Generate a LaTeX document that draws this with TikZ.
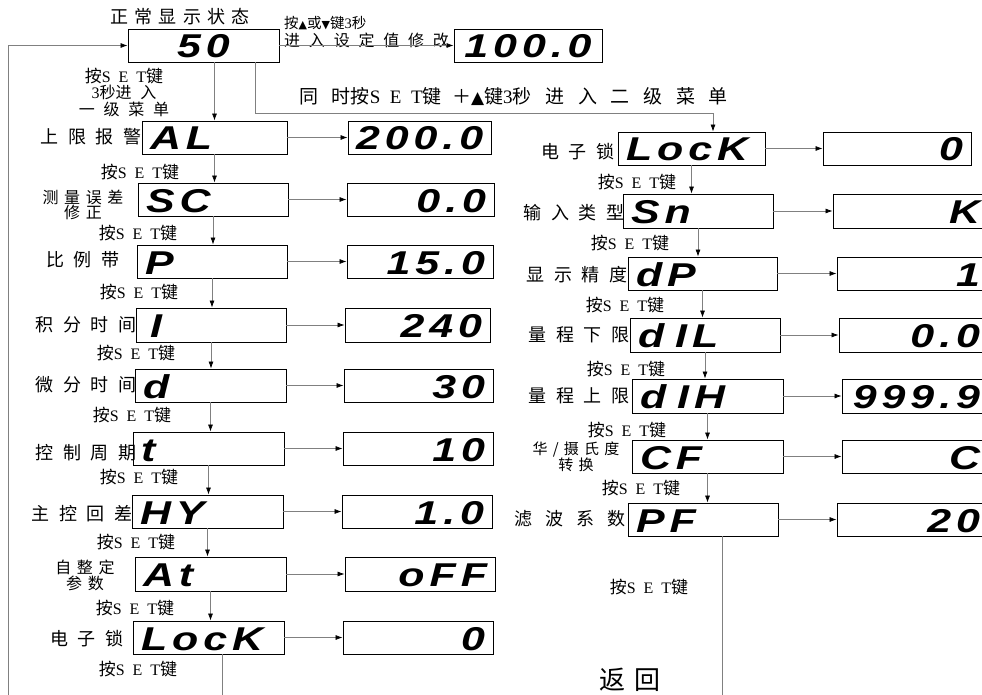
\documentclass[tikz,border=0pt]{standalone}
\usepackage{fontspec}
\setmainfont{Liberation Serif}
\newfontfamily\cjk[LetterSpace=8]{Noto Sans CJK SC}
\newfontfamily\cjkl[LetterSpace=35]{Noto Sans CJK SC}
\newfontfamily\cjkw[LetterSpace=55]{Noto Sans CJK SC}
\newfontfamily\cjkx[LetterSpace=72]{Noto Sans CJK SC}
\newfontfamily\serw[LetterSpace=50]{Liberation Serif}
\newfontfamily\disp[LetterSpace=15,FakeStretch=1.3]{Liberation Sans}
\newfontfamily\sym{DejaVu Sans}
\usetikzlibrary{arrows.meta}
\newcommand\dispfont{\fontsize{33}{33}\selectfont\disp\bfseries\itshape}
\newcommand\anS{{\fontsize{17}{17}\selectfont\cjk 按}{\serw SET}{\fontsize{17}{17}\selectfont\cjk 键}}
\newcommand\bx[7]{%
  \pgfmathsetmacro\tw{#5-#3-16}%
  \node[#1,text width=\tw pt,minimum height={#6-#4}] (#2) at ({(#3+#5)/2},{(#4+#6)/2}) {#7};}
\begin{document}
\begin{tikzpicture}[x=1pt,y=-1pt,
  kb/.style={draw=black,line width=0.9pt,inner xsep=8pt,inner ysep=0pt,text height=25pt,text depth=0pt,font=\dispfont},
  kl/.style={kb,align=left}, kr/.style={kb,align=right}, kc/.style={kb,align=center},
  lab/.style={inner sep=0pt,align=center,font=\fontsize{18}{15}\selectfont\cjkw},
  lab2/.style={inner sep=0pt,align=center,font=\fontsize{16}{13}\selectfont\cjkl},
  sk/.style={inner sep=0pt,align=center,font=\fontsize{16}{16}\selectfont},
  conn/.style={draw=black!50,line width=0.7pt},
  arr/.style={conn,-{Latex[length=7pt,width=5pt,color=black]}}]
\useasboundingbox (0,0) rectangle (982,695);
\clip (0,0) rectangle (982,695);
\fill[white] (0,0) rectangle (982,695);

% top row
\node[inner sep=0pt,font=\fontsize{18}{19}\selectfont\cjkl] (title) at (180,17) {正常显示状态};
\bx{kc}{n50}{128}{29}{279}{62}{50}
\bx{kc}{n100}{454}{29}{602}{62}{100.0}
\node[inner sep=0pt,anchor=west,font=\fontsize{14.5}{14}\selectfont] (t1) at (284,23) {{\cjk 按}{\sym\fontsize{11}{11}\selectfont ▲}{\cjk 或}{\sym\fontsize{11}{11}\selectfont ▼}{\cjk 键}3{\cjk 秒}};
\node[inner sep=0pt,anchor=west,font=\fontsize{16}{16}\selectfont\cjkw] (t2) at (284,40) {进入设定值修改};
\draw[arr] (n50) -- (n100);

\node[sk,font=\fontsize{16}{16}\selectfont] (m1) at (124,92) {\anS\\[0.5pt]{\serw 3}{\cjk 秒}{\cjkw 进入}\\[0.5pt]{\cjkw 一级菜单}};
\node[inner sep=0pt,anchor=west,font=\fontsize{19}{19}\selectfont] (m2) at (299,97)
  {{\cjkx 同时}{\cjk 按}{\serw SET}{\cjkw 键＋}{\sym\fontsize{17}{17}\selectfont ▲}{\cjk 键}3{\cjkx 秒进入二级菜单}};

% left column
\bx{kl}{AL}{142}{121}{287}{154}{AL}
\bx{kr}{ALv}{348}{121}{491}{154}{200.0}
\bx{kl}{SC}{138}{183}{288}{216}{SC}
\bx{kr}{SCv}{347}{183}{494}{216}{0.0}
\bx{kl}{P}{137}{245}{287}{278}{P}
\bx{kr}{Pv}{347}{245}{493}{278}{15.0}
\bx{kl}{I}{136}{308}{286}{342}{\hspace{6pt}I}
\bx{kr}{Iv}{345}{308}{490}{342}{240}
\bx{kl}{D}{135}{369}{286}{402}{d}
\bx{kr}{Dv}{344}{369}{493}{402}{30}
\bx{kl}{T}{133}{432}{284}{465}{t}
\bx{kr}{Tv}{343}{432}{493}{465}{10}
\bx{kl}{HY}{132}{495}{283}{528}{HY}
\bx{kr}{HYv}{342}{495}{492}{528}{1.0}
\bx{kl}{AT}{135}{557}{286}{591}{At}
\bx{kr}{ATv}{345}{557}{495}{591}{oFF}
\bx{kl}{LK}{133}{621}{284}{654}{LocK}
\bx{kr}{LKv}{343}{621}{493}{654}{0}

\node[lab] (lAL) at (91,137) {上限报警};
\node[lab2] (lSC) at (83,205) {测量误差\\修正};
\node[lab] (lP) at (83,260) {比例带};
\node[lab] (lI) at (86,325) {积分时间};
\node[lab] (lD) at (86,385) {微分时间};
\node[lab] (lT) at (86,453) {控制周期};
\node[lab] (lHY) at (82,514) {主控回差};
\node[lab2] (lAT) at (85,575) {自整定\\参数};
\node[lab] (lLK) at (87,639) {电子锁};

\node[sk] (k1) at (140,172) {\anS};
\node[sk] (k2) at (138,233) {\anS};
\node[sk] (k3) at (139,292) {\anS};
\node[sk] (k4) at (136,353) {\anS};
\node[sk] (k5) at (132,415) {\anS};
\node[sk] (k6) at (139,477) {\anS};
\node[sk] (k7) at (136,542) {\anS};
\node[sk] (k8) at (135,608) {\anS};
\node[sk] (k9) at (138,669) {\anS};

% right column
\bx{kl}{R1}{618}{132}{765}{165}{LocK}
\bx{kr}{R1v}{823}{132}{971}{165}{0}
\bx{kl}{R2}{623}{194}{773}{228}{Sn}
\bx{kr}{R2v}{833}{194}{988}{228}{K}
\bx{kl}{R3}{628}{257}{777}{290}{dP}
\bx{kr}{R3v}{837}{257}{988}{290}{1}
\bx{kl}{R4}{630}{318}{780}{352}{d IL}
\bx{kr}{R4v}{839}{318}{988}{352}{0.0}
\bx{kl}{R5}{632}{379}{783}{413}{d IH}
\bx{kr}{R5v}{842}{379}{988}{413}{999.9}
\bx{kl}{R6}{632}{440}{783}{473}{CF}
\bx{kr}{R6v}{842}{440}{988}{473}{C}
\bx{kl}{R7}{628}{503}{778}{536}{PF}
\bx{kr}{R7v}{837}{503}{988}{536}{20}

\node[lab] (lR1) at (578,152) {电子锁};
\node[lab] (lR2) at (574,213) {输入类型};
\node[lab] (lR3) at (577,275) {显示精度};
\node[lab] (lR4) at (579,335) {量程下限};
\node[lab] (lR5) at (579,396) {量程上限};
\node[lab2,font=\fontsize{15}{13}\selectfont\cjkl] (lR6) at (576,457) {华/摄氏度\\转换};
\node[lab,font=\fontsize{18}{15}\selectfont\cjkx] (lR7) at (570,519) {滤波系数};

\node[sk] (r1) at (637,182) {\anS};
\node[sk] (r2) at (630,243) {\anS};
\node[sk] (r3) at (625,305) {\anS};
\node[sk] (r4) at (626,369) {\anS};
\node[sk] (r5) at (627,430) {\anS};
\node[sk] (r6) at (641,488) {\anS};
\node[sk] (r7) at (649,587) {\anS};
\node[inner sep=0pt,font=\fontsize{26}{26}\selectfont\cjkl] (back) at (630,680) {返回};

% connectors
\coordinate (retA) at (8,700);
\draw[arr] (retA) |- (n50.west);
\draw[arr] (n50.south -| AL.north) -- (AL.north);
\coordinate (s1) at (255,113);
\coordinate (s2) at (713,113);
\draw[arr] (n50.south -| s1) -- (s1) -- (s2) -- (s2 |- R1.north);

\foreach \a/\b in {AL/SC,SC/P,P/I,I/D,D/T,T/HY,HY/AT,AT/LK,R1/R2,R2/R3,R3/R4,R4/R5,R5/R6,R6/R7}
  \draw[arr] (\a.south) -- (\a.south |- \b.north);
\foreach \a in {AL,SC,P,I,D,T,HY,AT,LK,R1,R2,R3,R4,R5,R6,R7}
  \draw[arr] (\a.east) -- (\a v.west);

\coordinate (endL) at (222,700);
\draw[conn] (LK.south -| endL) -- (endL);
\coordinate (endR) at (722,700);
\draw[conn] (R7.south -| endR) -- (endR);
\end{tikzpicture}
\end{document}
